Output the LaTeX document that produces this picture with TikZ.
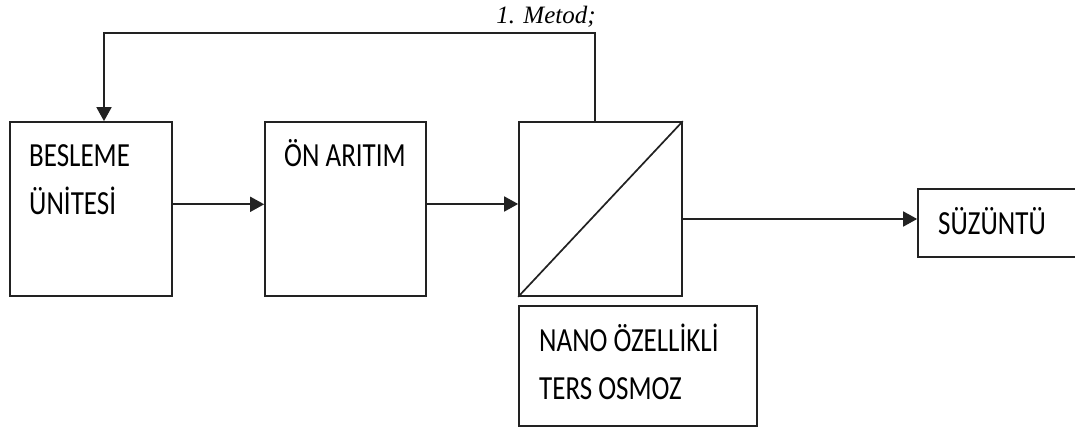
\documentclass[tikz,border=0pt]{standalone}
\usepackage{graphicx}
\usepackage{fontspec}
\setmainfont{Carlito}
\newfontfamily\serifit{Liberation Serif}
\usetikzlibrary{arrows.meta}
\definecolor{ln}{HTML}{222222}
\newcommand{\tall}[1]{\scalebox{1}[1.25]{#1}}
\tikzset{
  blk/.style={draw=ln, line width=1.7pt, rectangle, inner sep=0pt},
  arr/.style={draw=ln, line width=1.7pt, -{Triangle[length=14pt,width=15pt]}},
  ln/.style={draw=ln, line width=1.7pt},
  lbl/.style={anchor=base west, inner sep=0pt, font=\fontsize{27}{30}\selectfont, text=black},
}
\begin{document}
\begin{tikzpicture}[x=1pt,y=1pt]
\clip (0,0) rectangle (1075,427);
\fill[white] (0,0) rectangle (1075,427);
% boxes
\node[blk, minimum width=162pt, minimum height=174pt] (b1) at (91,218) {};
\node[blk, minimum width=161pt, minimum height=174pt] (b2) at (345.5,218) {};
\node[blk, minimum width=163pt, minimum height=174pt] (mem) at (600.5,218) {};
\node[blk, minimum width=238pt, minimum height=120pt] (nano) at (638,61) {};
\node[blk, minimum width=190pt, minimum height=68pt] (suz) at (1013,204) {};
% membrane diagonal
\draw[ln] (mem.south west) -- (mem.north east);
% texts
\node[lbl] (t1a) at (29,260.3) {\tall{BESLEME}};
\node[lbl] (t1b) at (29,212) {\tall{ÜNİTESİ}};
\node[lbl] (t2) at (284,260.3) {\tall{ÖN ARITIM}};
\node[lbl] (t3a) at (539,75.3) {\tall{NANO ÖZELLİKLİ}};
\node[lbl] (t3b) at (539,27) {\tall{TERS OSMOZ}};
\node[lbl] (t4) at (938,192) {\tall{SÜZÜNTÜ}};
\node[anchor=base, inner sep=0pt, font=\serifit\itshape\fontsize{25}{28}\selectfont] (met) at (546,403.7) {1. Metod;};
% arrows
\coordinate (a1) at ([yshift=4.7pt]b1.east);
\draw[arr] (a1) -- (a1 -| b2.west);
\coordinate (a2) at ([yshift=5pt]b2.east);
\draw[arr] (a2) -- (a2 -| mem.west);
\coordinate (a3) at ([yshift=-10pt]mem.east);
\draw[arr] (a3) -- (a3 -| suz.west);
% feedback
\coordinate (fbtop) at (0,394);
\coordinate (fbA) at ([xshift=-5.5pt]mem.north);
\coordinate (fbB) at ([xshift=13pt]b1.north);
\draw[arr] (fbA) -- (fbA |- fbtop) -- (fbB |- fbtop) -- (fbB);
\end{tikzpicture}
\end{document}
